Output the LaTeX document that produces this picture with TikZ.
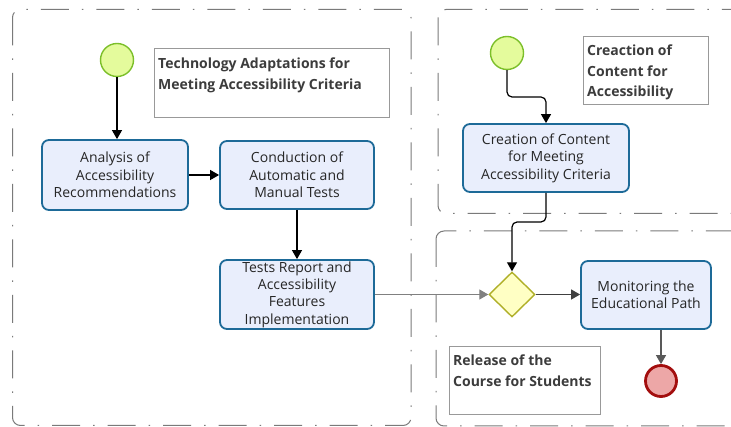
\documentclass[tikz,border=0pt]{standalone}
\usepackage{fontspec}
\setmainfont{Open Sans}
\usetikzlibrary{arrows.meta,shapes.geometric}
\definecolor{taskfill}{HTML}{E9EEFC}
\definecolor{taskline}{HTML}{1D6A98}
\definecolor{startfill}{HTML}{E4FB9C}
\definecolor{startline}{HTML}{7CBF2A}
\definecolor{endfill}{HTML}{EDA7A7}
\definecolor{endline}{HTML}{A30E0E}
\definecolor{gwfill}{HTML}{FFFFC4}
\definecolor{gwline}{HTML}{AFAF28}
\definecolor{poolline}{HTML}{7A7A7A}
\definecolor{txt}{HTML}{262626}
\tikzset{
  pool/.style={draw=poolline, line width=1pt, rounded corners=8pt,
    dash pattern=on 28pt off 13pt on 1.5pt off 13pt},
  task/.style={draw=taskline, fill=taskfill, line width=1.8pt, rounded corners=7pt,
    align=center, text=txt, inner sep=0pt,
    font=\fontsize{14}{17.4}\selectfont},
  startev/.style={circle, draw=startline, fill=startfill, line width=1.4pt,
    minimum size=33pt, inner sep=0pt},
  endev/.style={circle, draw=endline, fill=endfill, line width=2.8pt,
    minimum size=31pt, inner sep=0pt},
  gateway/.style={diamond, draw=gwline, fill=gwfill, line width=1.4pt,
    minimum width=46pt, minimum height=45pt, inner sep=0pt},
  notebox/.style={draw=gray!80, line width=0.9pt, anchor=north west, inner sep=0pt},
  notetext/.style={anchor=north west, align=left, text=txt!90,
    font=\bfseries\fontsize{14}{20.7}\selectfont, inner sep=0pt},
  flow/.style={line width=1.2pt, -{Triangle[length=9pt,width=10pt]}},
}
\begin{document}
\begin{tikzpicture}[x=1pt,y=-1pt]
\clip (0,0) rectangle (731,427);
\fill[white] (0,0) rectangle (731,427);

% lanes
\draw[pool] (12.5,9.5) rectangle (411,425.5);
\draw[pool] (438,9.5) rectangle (760,213.5);
\draw[pool] (436,231) rectangle (760,426);

% annotations
\node[notebox, minimum width=235pt, minimum height=69pt] (n1) at (154,48) {};
\node[notetext] (n1t) at ([xshift=4pt,yshift=-9.5pt]n1.north west)
  {Technology Adaptations for\\Meeting Accessibility Criteria};
\node[notebox, minimum width=125pt, minimum height=68pt] (n2) at (583,36) {};
\node[notetext] (n2t) at ([xshift=4pt,yshift=-8.5pt]n2.north west)
  {Creaction of\\Content for\\Accessibility};
\node[notebox, minimum width=151pt, minimum height=68pt] (n3) at (449,346) {};
\node[notetext] (n3t) at ([xshift=4pt,yshift=-9pt]n3.north west)
  {Release of the\\Course for Students};

% events and gateway
\node[startev] (s1) at (117,60) {};
\node[startev] (s2) at (507,53) {};
\node[endev] (e1) at (661,381) {};
\node[gateway] (gw) at (512,294.5) {};

% tasks
\node[task, minimum width=146pt, minimum height=70pt] (analysis) at (115,175)
  {Analysis of\\Accessibility\\Recommendations};
\node[task, minimum width=154pt, minimum height=68pt] (tests) at (297,175)
  {Conduction of\\Automatic and\\Manual Tests};
\node[task, minimum width=154pt, minimum height=69pt] (report) at (297,294.5)
  {Tests Report and\\Accessibility\\Features\\Implementation};
\node[task, minimum width=166pt, minimum height=68pt] (create) at (546,158)
  {Creation of Content\\for Meeting\\Accessibility Criteria};
\node[task, minimum width=130pt, minimum height=68pt] (monitor) at (646,295)
  {Monitoring the\\Educational Path};

% sequence flows
\coordinate (b1) at (525,97);
\coordinate (b2) at (530,222);
\draw[flow] (s1.south) -- (s1.south |- analysis.north);
\draw[flow] (analysis.east) -- (tests.west);
\draw[flow] (tests.south) -- (report.north);
\draw[flow, rounded corners=5pt] (s2.south) |- (b1) -| (create.north);
\draw[flow, rounded corners=5pt] (create.south) |- (b2) -| (gw.north);
\draw[flow, draw=gray] (report.east |- gw.west) -- (gw.west);
\draw[flow, draw=black!75] (gw.east) -- (monitor.west |- gw.east);
\draw[flow, draw=black!65] (monitor.south -| e1.north) -- (e1.north);
\end{tikzpicture}
\end{document}
